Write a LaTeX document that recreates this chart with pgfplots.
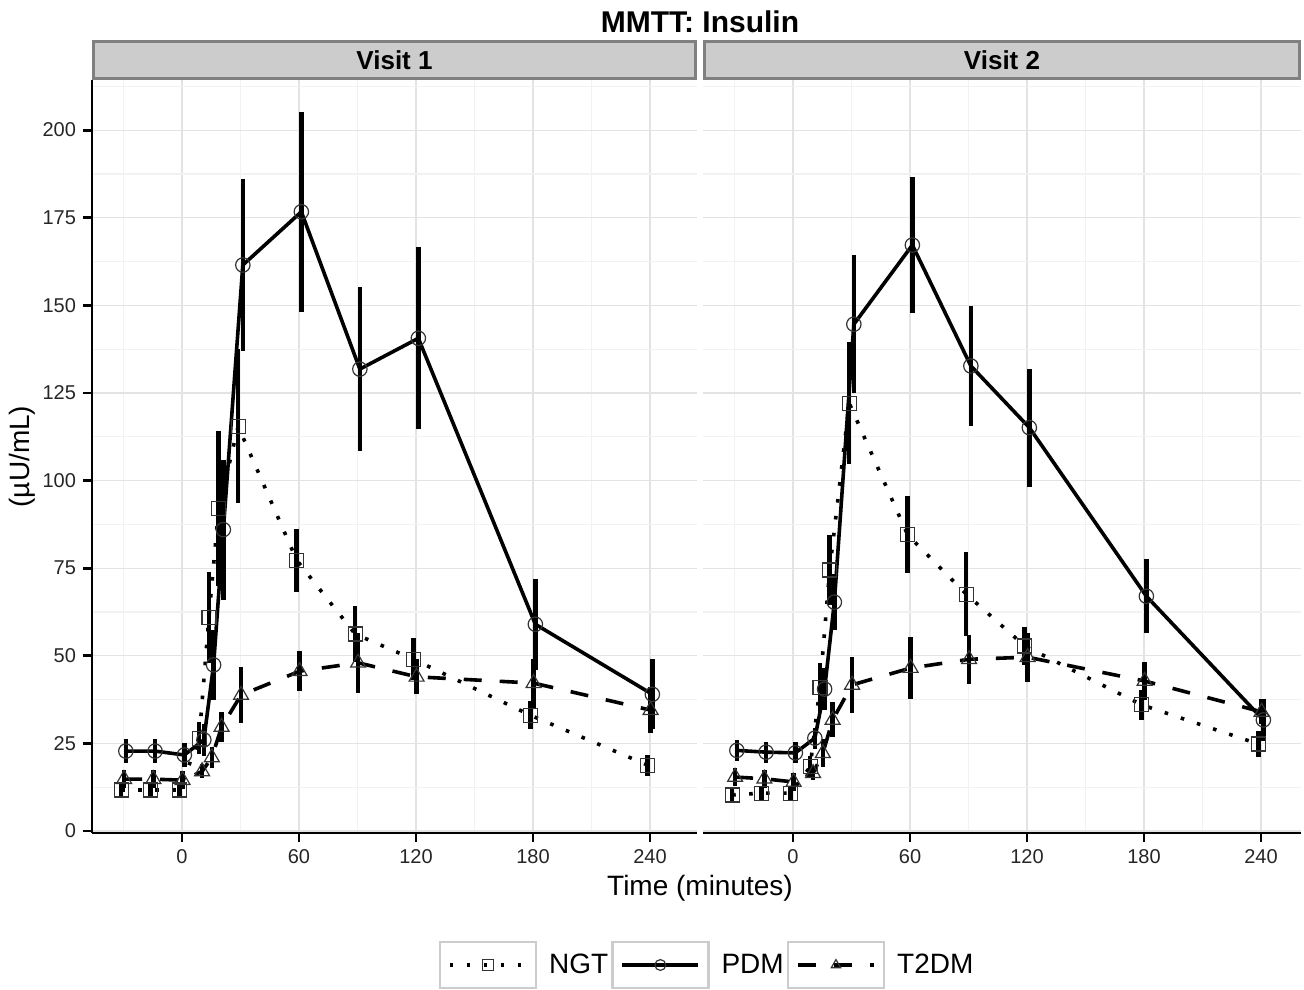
\documentclass[border=0pt]{standalone}
\usepackage{pgfplots}
\pgfplotsset{compat=1.18}
\usepackage{pgfplotstable}
\usepackage{fontspec}
\setmainfont{Liberation Sans}

\pgfplotstableread{
t y e
-31.2 11.7 2
-16.2 11.7 2
-1.2 11.7 2
8.8 26.5 4.5
13.8 61 13
18.8 92 22
28.8 115.5 22
58.8 77.3 9
88.8 56.2 8
118.8 49 6
178.8 33 4
238.8 18.8 3
}\ngtA
\pgfplotstableread{
t y e
-28.8 22.8 3.5
-13.8 22.8 3.5
1.2 21.7 3.5
11.2 26 4.5
16.2 47.4 10
21.2 86 20
31.2 161.5 24.5
61.2 176.7 28.6
91.2 131.8 23.5
121.2 140.6 26
181.2 59 13
241.2 39 10
}\pdmA
\pgfplotstableread{
t y e
-29.7 14.8 2.5
-14.7 14.8 2.5
0.3 14.5 2.5
10.3 17 2
15.3 21 3
20.3 29.7 4.3
30.3 38.8 8
60.3 45.6 5.7
90.3 48 8.5
120.3 44 5
180.3 42.2 7
240.3 34.5 6.5
}\tdmA
\pgfplotstableread{
t y e
-31.2 10.3 2
-16.2 10.8 2
-1.2 10.8 2
8.8 18.3 3
13.8 41 7
18.8 74.5 10
28.8 122.1 17.5
58.8 84.5 11
88.8 67.6 12
118.8 52.8 5.5
178.8 36 4.3
238.8 24.8 3.6
}\ngtB
\pgfplotstableread{
t y e
-28.8 23 3
-13.8 22.5 3
1.2 22.3 3
11.2 26.5 3
16.2 40.5 6
21.2 65.3 8
31.2 144.6 19.7
61.2 167.2 19.3
91.2 132.7 17
121.2 115.1 16.8
181.2 67 10.5
241.2 31.7 6
}\pdmB
\pgfplotstableread{
t y e
-29.7 15.4 2.5
-14.7 14.9 2.5
0.3 14 2.5
10.3 16.5 2
15.3 22.2 4
20.3 31.7 5
30.3 41.7 8
60.3 46.5 8.8
90.3 49 7
120.3 49.6 7
180.3 42.8 5.3
240.3 34 3.6
}\tdmB

\pgfplotsset{
  panel/.style={
    scale only axis, anchor=north west,
    height=376.5pt,
    ymin=-0.57, ymax=214.3, xmin=-46.15,
    axis x line=bottom, axis y line=left,
    axis line style={-, line width=1.4pt, black},
    tick align=outside, major tick length=4.5pt,
    minor tick length=0pt,
    tick style={line width=1.4pt, black},
    xtick={0,60,120,180,240}, minor xtick={-30,30,90,150,210},
    ytick={0,25,...,200}, minor ytick={12.5,37.5,...,212.5},
    grid=both,
    major grid style={black!11, line width=0.6pt},
    minor grid style={black!5, line width=0.6pt},
    ticklabel style={font=\fontsize{10}{12}\selectfont, text=black!85},
    /pgf/number format/assume math mode=true,
    legend image code/.code={
      \draw[draw=black!20, line width=1.2pt, solid, fill=white] (-5pt,-11.5pt) rectangle (43pt,11.5pt);
      \draw[mark repeat=2, mark phase=2, ##1, mark size=2.7pt] plot coordinates {(0pt,0pt) (19pt,0pt) (38pt,0pt)};
    },
  },
  ngt/.style={black, line width=1.8pt, dash pattern=on 1.8pt off 6.7pt, mark=square, mark size=3.5pt,
    mark options={solid, line width=0.6pt, draw=black!80}},
  pdm/.style={black, line width=1.8pt, solid, mark=o, mark size=3.6pt,
    mark options={solid, line width=0.6pt, draw=black!80}},
  tdm/.style={black, line width=1.8pt, dash pattern=on 9pt off 9pt, mark=triangle, mark size=4.3pt,
    mark options={solid, line width=0.6pt, draw=black!80}},
  eb/.style={error bars/.cd, y dir=both, y explicit, error mark=none,
    error bar style={solid, line width=2.3pt, black}},
}

\begin{document}
\begin{tikzpicture}
\path[use as bounding box] (0pt,0pt) rectangle (652pt,-494.5pt);

\begin{axis}[panel, name=p1, at={(46pt,-40pt)}, width=302.5pt, xmax=264.1,
  legend style={at={(1.0149,-0.1753)}, anchor=center, draw=none, fill=none,
    font=\fontsize{14}{16}\selectfont, legend columns=3,
    /tikz/every odd column/.append style={column sep=6pt},
    /tikz/every even column/.append style={column sep=1.5pt},
    nodes={inner sep=0pt}},
  legend cell align=left]
\addplot[ngt, eb] table[x=t, y=y, y error=e] {\ngtA};
\addplot[pdm, eb] table[x=t, y=y, y error=e] {\pdmA};
\addplot[tdm, eb] table[x=t, y=y, y error=e] {\tdmA};
\legend{NGT, PDM, T2DM}
\end{axis}

\begin{axis}[panel, name=p2, at={(351.5pt,-40pt)}, width=299pt, xmax=260.5,
  y axis line style={draw=none}, ytick style={draw=none}, yticklabels={}]
\addplot[ngt, eb] table[x=t, y=y, y error=e] {\ngtB};
\addplot[pdm, eb] table[x=t, y=y, y error=e] {\pdmB};
\addplot[tdm, eb] table[x=t, y=y, y error=e] {\tdmB};
\end{axis}

\draw[fill=black!20, draw=black!50, line width=1.3pt] ([xshift=0.65pt,yshift=0.65pt]p1.north west) rectangle ([xshift=-0.65pt,yshift=19.35pt]p1.north east);
\draw[fill=black!20, draw=black!50, line width=1.3pt] ([xshift=0.65pt,yshift=0.65pt]p2.north west) rectangle ([xshift=-0.65pt,yshift=19.35pt]p2.north east);
\node[font=\bfseries\fontsize{13}{15}\selectfont] at ([yshift=10pt]p1.north) {Visit 1};
\node[font=\bfseries\fontsize{13}{15}\selectfont] at ([yshift=10pt]p2.north) {Visit 2};

\node[font=\bfseries\fontsize{15}{18}\selectfont, anchor=base] at (350pt,-16.5pt) {MMTT: Insulin};
\node[font=\fontsize{14}{17}\selectfont, anchor=base] at (350pt,-447.5pt) {Time (minutes)};
\node[font=\fontsize{14}{17}\selectfont, rotate=90] at (11pt,-228.3pt) {(µU/mL)};
\end{tikzpicture}
\end{document}
